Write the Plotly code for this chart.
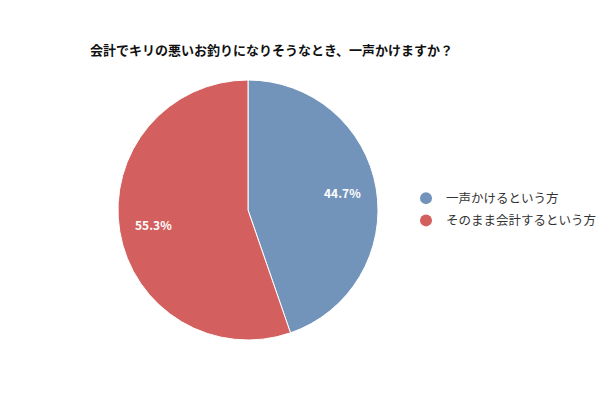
import math
import plotly.graph_objects as go

title_text = "会計でキリの悪いお釣りになりそうなとき、一声かけますか？"
categories = ["一声かけるという方", "そのまま会計するという方"]
values = [44.7, 55.3]
colors = ["#7394BA", "#D45F5F"]

W, H = 600, 400
cx, cy, R = 248, 210, 130  # pie centre / radius in pixels

fig = go.Figure()
fig.add_trace(go.Pie(
    labels=categories,
    values=values,
    sort=False,
    direction="clockwise",
    rotation=0,
    marker=dict(colors=colors, line=dict(color="white", width=1)),
    textinfo="none",
    showlegend=False,
    domain=dict(x=[(cx - R) / W, (cx + R) / W], y=[1 - (cy + R) / H, 1 - (cy - R) / H]),
    hoverinfo="label+percent",
))
# percentage labels placed along each slice's mid-angle
total = sum(values)
cum = 0
for v in values:
    mid = (cum + v / 2) / total * 2 * math.pi
    cum += v
    px = cx + 0.74 * R * math.sin(mid)
    py = cy - 0.74 * R * math.cos(mid) - 1.5
    fig.add_annotation(x=px / W, y=1 - py / H, xref="paper", yref="paper",
                       xanchor="center", yanchor="middle",
                       text="<b>%.1f%%</b>" % v, showarrow=False,
                       font=dict(color="white", size=12, family="Noto Sans CJK JP"))
# legend entries with round markers
for i, (cat, col) in enumerate(zip(categories, colors)):
    fig.add_trace(go.Scatter(
        x=[None], y=[None], mode="markers", name=cat, legendgroup="g%d" % i,
        marker=dict(symbol="circle", size=13, color=col),
        showlegend=True,
    ))

fig.update_layout(
    width=W, height=H,
    margin=dict(l=0, r=0, t=0, b=0, autoexpand=False),
    paper_bgcolor="white", plot_bgcolor="white",
    title=dict(text="<b>" + title_text + "</b>", x=90 / W, xanchor="left", xref="container",
               y=1 - 50 / H, yanchor="middle", yref="container",
               font=dict(size=13, color="#111", family="Noto Sans CJK JP")),
    xaxis=dict(visible=False), yaxis=dict(visible=False),
    legend=dict(x=406 / W, y=1 - 209.5 / H, xanchor="left", yanchor="middle",
                font=dict(size=12.5, color="#333", family="Noto Sans CJK JP"),
                itemsizing="constant", tracegroupgap=3),
)
fig.write_html("out.html", config={"displayModeBar": False},
               post_script="document.body.style.margin='0';")
